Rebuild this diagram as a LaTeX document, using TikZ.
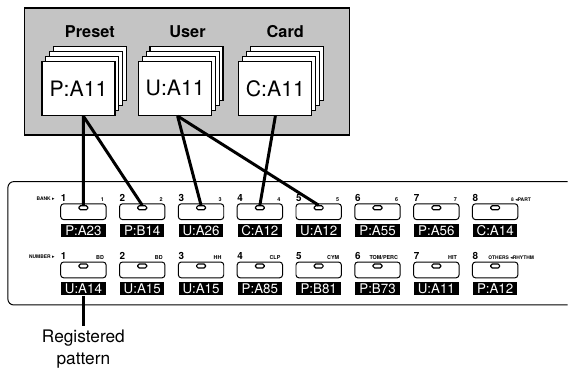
\documentclass[tikz,border=0pt]{standalone}
\usepackage{fontspec}
\setmainfont{TeX Gyre Heros}
\newfontfamily\symfont{DejaVu Sans}
\usetikzlibrary{positioning, shadows}
\definecolor{stipple}{RGB}{196,196,196}

\begin{document}
\begin{tikzpicture}[
    x=1pt, y=-1pt,
    store/.style={
        draw,
        line width=1.6pt,
        fill=stipple,
        minimum width=329pt,
        minimum height=129pt
    },
    group/.style={font=\fontsize{16.5}{18}\selectfont\bfseries, inner sep=0pt},
    card/.style={
        draw,
        fill=white,
        line width=1.2pt,
        minimum width=74pt,
        minimum height=55pt,
        font=\fontsize{21.5}{24}\selectfont,
        copy shadow={shadow xshift=11.4pt, shadow yshift=15pt},
        copy shadow={shadow xshift=7.6pt, shadow yshift=10pt},
        copy shadow={shadow xshift=3.8pt, shadow yshift=5pt}
    },
    pad/.style={
        draw,
        line width=1pt,
        rounded corners=3pt,
        minimum width=46pt,
        minimum height=16pt,
        inner sep=0pt
    },
    led/.style={
        draw,
        line width=1.2pt,
        fill=white,
        rounded corners=1.5pt,
        minimum width=9pt,
        minimum height=4pt,
        inner sep=0pt
    },
    tag/.style={
        fill=black,
        text=white,
        minimum width=45pt,
        minimum height=13pt,
        inner sep=1pt,
        font=\fontsize{13.5}{14}\selectfont
    },
    bnum/.style={font=\fontsize{10}{10}\selectfont\bfseries, inner sep=0.5pt, anchor=south west, yshift=1.5pt},
    bsub/.style={font=\fontsize{5.5}{6}\selectfont\bfseries, inner sep=0.5pt, anchor=south east, xshift=-2pt, yshift=1.5pt},
    numl/.style={label={[bnum]north west:#1}},
    subl/.style={label={[bsub]north east:#1}},
    side/.style={font=\fontsize{5}{6}\selectfont\bfseries, inner sep=0.5pt},
    note/.style={align=center, font=\fontsize{17.5}{22}\selectfont, inner sep=0pt},
    link/.style={line width=3pt}
]

% pattern memory
\node[store] (store) at (189.5,72.5) {};
\node[group] (tpre) at (91,32) {Preset};
\node[group] (tuser) at (190,32) {User};
\node[group] (tcard) at (289,32) {Card};
\node[card] (pcard) at (79.5,89.5) {P:A11};
\node[card] (ucard) at (177.5,89.5) {U:A11};
\node[card] (ccard) at (279,89.5) {C:A11};

% front panel
\draw[line width=1pt, rounded corners=6pt] (575,184) -- (8,184) -- (8,309) -- (575,309);

% bank row
\node[pad, numl=1, subl=1] (b1) at (84.5,214.5) {};
\node[pad, numl=2, subl=2, right=12.6pt of b1] (b2) {};
\node[pad, numl=3, subl=3, right=12.6pt of b2] (b3) {};
\node[pad, numl=4, subl=4, right=12.6pt of b3] (b4) {};
\node[pad, numl=5, subl=5, right=12.6pt of b4] (b5) {};
\node[pad, numl=6, subl=6, right=12.6pt of b5] (b6) {};
\node[pad, numl=7, subl=7, right=12.6pt of b6] (b7) {};
\node[pad, numl=8, right=12.6pt of b7] (b8) {};
\node[side, anchor=south east] (bank) at ([xshift=-5pt, yshift=2pt]b1.north west) {BANK {\symfont ▸}};
\node[side, anchor=south west] (part) at ([xshift=-8pt, yshift=1.5pt]b8.north east) {8 {\symfont ◂}PART};

\node[tag, below=4pt of b1] (t1) {P:A23};
\node[tag, below=4pt of b2] (t2) {P:B14};
\node[tag, below=4pt of b3] (t3) {U:A26};
\node[tag, below=4pt of b4] (t4) {C:A12};
\node[tag, below=4pt of b5] (t5) {U:A12};
\node[tag, below=4pt of b6] (t6) {P:A55};
\node[tag, below=4pt of b7] (t7) {P:A56};
\node[tag, below=4pt of b8] (t8) {C:A14};

% number row
\node[pad, numl=1, subl=BD] (b9) at (84.5,273.5) {};
\node[pad, numl=2, subl=BD, right=12.6pt of b9] (b10) {};
\node[pad, numl=3, subl=HH, right=12.6pt of b10] (b11) {};
\node[pad, numl=4, subl=CLP, right=12.6pt of b11] (b12) {};
\node[pad, numl=5, subl=CYM, right=12.6pt of b12] (b13) {};
\node[pad, numl=6, subl=TOM/PERC, right=12.6pt of b13] (b14) {};
\node[pad, numl=7, subl=HIT, right=12.6pt of b14] (b15) {};
\node[pad, numl=8, right=12.6pt of b15] (b16) {};
\node[side, anchor=south east] (number) at ([xshift=-5pt, yshift=2pt]b9.north west) {NUMBER {\symfont ▸}};
\node[side, anchor=south west] (rhythm) at ([xshift=16pt, yshift=1.5pt]b16.north west) {OTHERS {\symfont ◂}RHYTHM};

\node[tag, below=4pt of b9] (t9) {U:A14};
\node[tag, below=4pt of b10] (t10) {U:A15};
\node[tag, below=4pt of b11] (t11) {U:A15};
\node[tag, below=4pt of b12] (t12) {P:A85};
\node[tag, below=4pt of b13] (t13) {P:B81};
\node[tag, below=4pt of b14] (t14) {P:B73};
\node[tag, below=4pt of b15] (t15) {U:A11};
\node[tag, below=4pt of b16] (t16) {P:A12};

\foreach \i in {1,...,16}
    \node[led] (l\i) at ([yshift=-4.5pt]b\i.north) {};

% assignments
\draw[link] (pcard.-80) -- (l1.north);
\draw[link] (pcard.-80) -- (l2.north);
\draw[link] (ucard.-85) -- (l3.north);
\draw[link] (ucard.-85) -- (l5.north);
\draw[link] (ccard.south) -- (l4.north);

\node[note, below=35pt of t9] (reg) {Registered\\pattern};
\draw[link, line width=2.5pt, shorten >=4pt] (t9.south) -- (reg.north);

\useasboundingbox (0,0) rectangle (568,375);
\end{tikzpicture}
\end{document}
